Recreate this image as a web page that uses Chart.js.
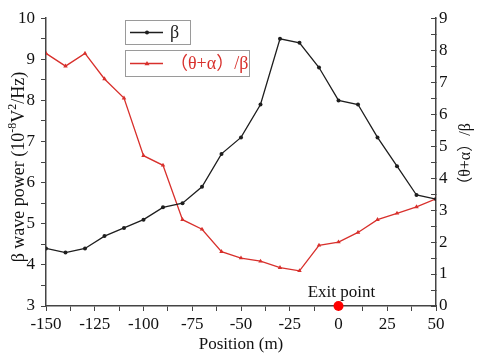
<!DOCTYPE html>
<html>
<head>
<meta charset="utf-8">
<script src="https://cdn.jsdelivr.net/npm/chart.js@4.4.1/dist/chart.umd.min.js"></script>
<style>
  html, body { margin: 0; padding: 0; background: #fff; }
  #wrap { width: 480px; height: 359px; }
</style>
</head>
<body>
<div id="wrap"><canvas id="chart"></canvas></div>
<script>
// data
const positions = [-150, -140, -130, -120, -110, -100, -90, -80, -70, -60, -50, -40, -30, -20, -10, 0, 10, 20, 30, 40, 50];
const betaPower = [4.4, 4.3, 4.4, 4.7, 4.9, 5.1, 5.4, 5.5, 5.9, 6.7, 7.1, 7.9, 9.5, 9.4, 8.8, 8.0, 7.9, 7.1, 6.4, 5.7, 5.6];
const ratio = [7.9, 7.5, 7.9, 7.1, 6.5, 4.7, 4.4, 2.7, 2.4, 1.7, 1.5, 1.4, 1.2, 1.1, 1.9, 2.0, 2.3, 2.7, 2.9, 3.1, 3.35];
const exitPoint = [0];

const SERIF = '"Liberation Serif", "Times New Roman", serif';
const CJK = '"Liberation Serif", "Noto Sans CJK SC", serif';
const BLACK = '#1e1e1e';
const RED = '#d8302c';
const AXIS = '#444';

const toXY = (ys) => positions.map((x, i) => ({ x: x, y: ys[i] }));

// draws legend boxes, y-axis titles and the exit label
const extras = {
  id: 'extras',
  afterDraw(chart) {
    const ctx = chart.ctx;
    const xs = chart.scales.x;
    ctx.save();

    // legend
    const rows = [
      { box: [125, 20, 65, 24], text: 'β', color: BLACK, style: 'circle' },
      { box: [125, 50, 124, 26], text: '（θ+α）/β', color: RED, style: 'triangle' }
    ];
    rows.forEach(r => {
      const [bx, by, bw, bh] = r.box;
      ctx.strokeStyle = '#9a9a9a';
      ctx.lineWidth = 1;
      ctx.strokeRect(bx + 0.5, by + 0.5, bw, bh);
      const cy = by + bh / 2 + 0.5;
      ctx.strokeStyle = r.color;
      ctx.lineWidth = 1.3;
      ctx.beginPath();
      ctx.moveTo(bx + 5, cy);
      ctx.lineTo(bx + 38, cy);
      ctx.stroke();
      ctx.fillStyle = r.color;
      ctx.beginPath();
      if (r.style === 'circle') {
        ctx.arc(bx + 22, cy, 2, 0, Math.PI * 2);
      } else {
        ctx.moveTo(bx + 22, cy - 2.5);
        ctx.lineTo(bx + 24.5, cy + 1.8);
        ctx.lineTo(bx + 19.5, cy + 1.8);
        ctx.closePath();
      }
      ctx.fill();
      ctx.font = '18px ' + CJK;
      ctx.textBaseline = 'middle';
      ctx.textAlign = 'left';
      ctx.fillText(r.text, bx + 45, cy + 1);
    });

    // left title with superscripts
    const big = '18px ' + SERIF;
    const small = '12px ' + SERIF;
    const parts = [
      { t: 'β wave power (10', f: big, up: 0 },
      { t: '-8', f: small, up: 8 },
      { t: 'V', f: big, up: 0 },
      { t: '2', f: small, up: 8 },
      { t: '/Hz)', f: big, up: 0 }
    ];
    let total = 0;
    parts.forEach(p => { ctx.font = p.f; p.w = ctx.measureText(p.t).width; total += p.w; });
    ctx.translate(19, 167);
    ctx.rotate(-Math.PI / 2);
    ctx.fillStyle = '#111';
    ctx.textBaseline = 'alphabetic';
    ctx.textAlign = 'left';
    let px = -total / 2;
    parts.forEach(p => {
      ctx.font = p.f;
      ctx.fillText(p.t, px, 5 - p.up);
      px += p.w;
    });
    ctx.setTransform(1, 0, 0, 1, 0, 0);

    // right title, reading bottom to top
    ctx.translate(465, 158);
    ctx.rotate(-Math.PI / 2);
    ctx.font = '16px ' + CJK;
    ctx.textAlign = 'center';
    ctx.fillText('（θ+α）/β', 0, 5);
    ctx.setTransform(1, 0, 0, 1, 0, 0);

    // exit point label
    ctx.font = '17px ' + SERIF;
    ctx.textAlign = 'center';
    ctx.textBaseline = 'alphabetic';
    ctx.fillStyle = '#111';
    ctx.fillText('Exit point', xs.getPixelForValue(exitPoint[0]) + 3, 297);
    ctx.restore();
  }
};

new Chart(document.getElementById('chart'), {
  type: 'line',
  data: {
    datasets: [
      {
        label: 'β',
        data: toXY(betaPower),
        yAxisID: 'y',
        borderColor: BLACK,
        backgroundColor: BLACK,
        borderWidth: 1.3,
        pointRadius: 2,
        pointBorderWidth: 0,
        pointStyle: 'circle',
        tension: 0
      },
      {
        label: '（θ+α）/β',
        data: toXY(ratio),
        yAxisID: 'y2',
        borderColor: RED,
        backgroundColor: RED,
        borderWidth: 1.3,
        pointRadius: 2.6,
        pointBorderWidth: 0,
        pointStyle: 'triangle',
        tension: 0
      },
      {
        label: 'Exit point',
        type: 'scatter',
        data: exitPoint.map(x => ({ x: x, y: 3 })),
        yAxisID: 'y',
        backgroundColor: '#ff0000',
        borderWidth: 0,
        pointRadius: 5,
        clip: false
      }
    ]
  },
  options: {
    responsive: true,
    maintainAspectRatio: false,
    animation: false,
    layout: { padding: { top: 16, left: 0, right: 0, bottom: 0 } },
    plugins: {
      legend: { display: false },
      tooltip: { enabled: false }
    },
    scales: {
      x: {
        type: 'linear',
        min: -150,
        max: 50,
        grid: { drawOnChartArea: false, tickLength: 5, tickColor: AXIS },
        border: { color: AXIS, width: 1.5 },
        ticks: {
          stepSize: 12.5,
          autoSkip: false,
          maxRotation: 0,
          padding: 3,
          color: '#111',
          font: { family: SERIF, size: 17 },
          callback: v => (v % 25 === 0 ? String(v) : '')
        },
        title: {
          display: true,
          text: 'Position (m)',
          color: '#111',
          font: { family: SERIF, size: 17 },
          padding: { top: 0, bottom: 4 }
        },
        afterFit: s => { s.height = 53; }
      },
      y: {
        position: 'left',
        min: 3,
        max: 10,
        grid: { drawOnChartArea: false, tickLength: 5, tickColor: AXIS },
        border: { color: AXIS, width: 1.5 },
        ticks: {
          stepSize: 0.5,
          autoSkip: false,
          padding: 6,
          color: '#111',
          font: { family: SERIF, size: 17 },
          callback: v => (Number.isInteger(v) ? String(v) : '')
        },
        afterFit: s => { s.width = 46; }
      },
      y2: {
        position: 'right',
        min: 0,
        max: 9,
        grid: { drawOnChartArea: false, tickLength: -5, tickColor: AXIS },
        border: { color: AXIS, width: 1.5 },
        ticks: {
          stepSize: 0.5,
          autoSkip: false,
          padding: 8,
          color: '#111',
          font: { family: SERIF, size: 17 },
          callback: v => (Number.isInteger(v) ? String(v) : '')
        },
        afterFit: s => { s.width = 44; }
      }
    }
  },
  plugins: [extras]
});
</script>
</body>
</html>
